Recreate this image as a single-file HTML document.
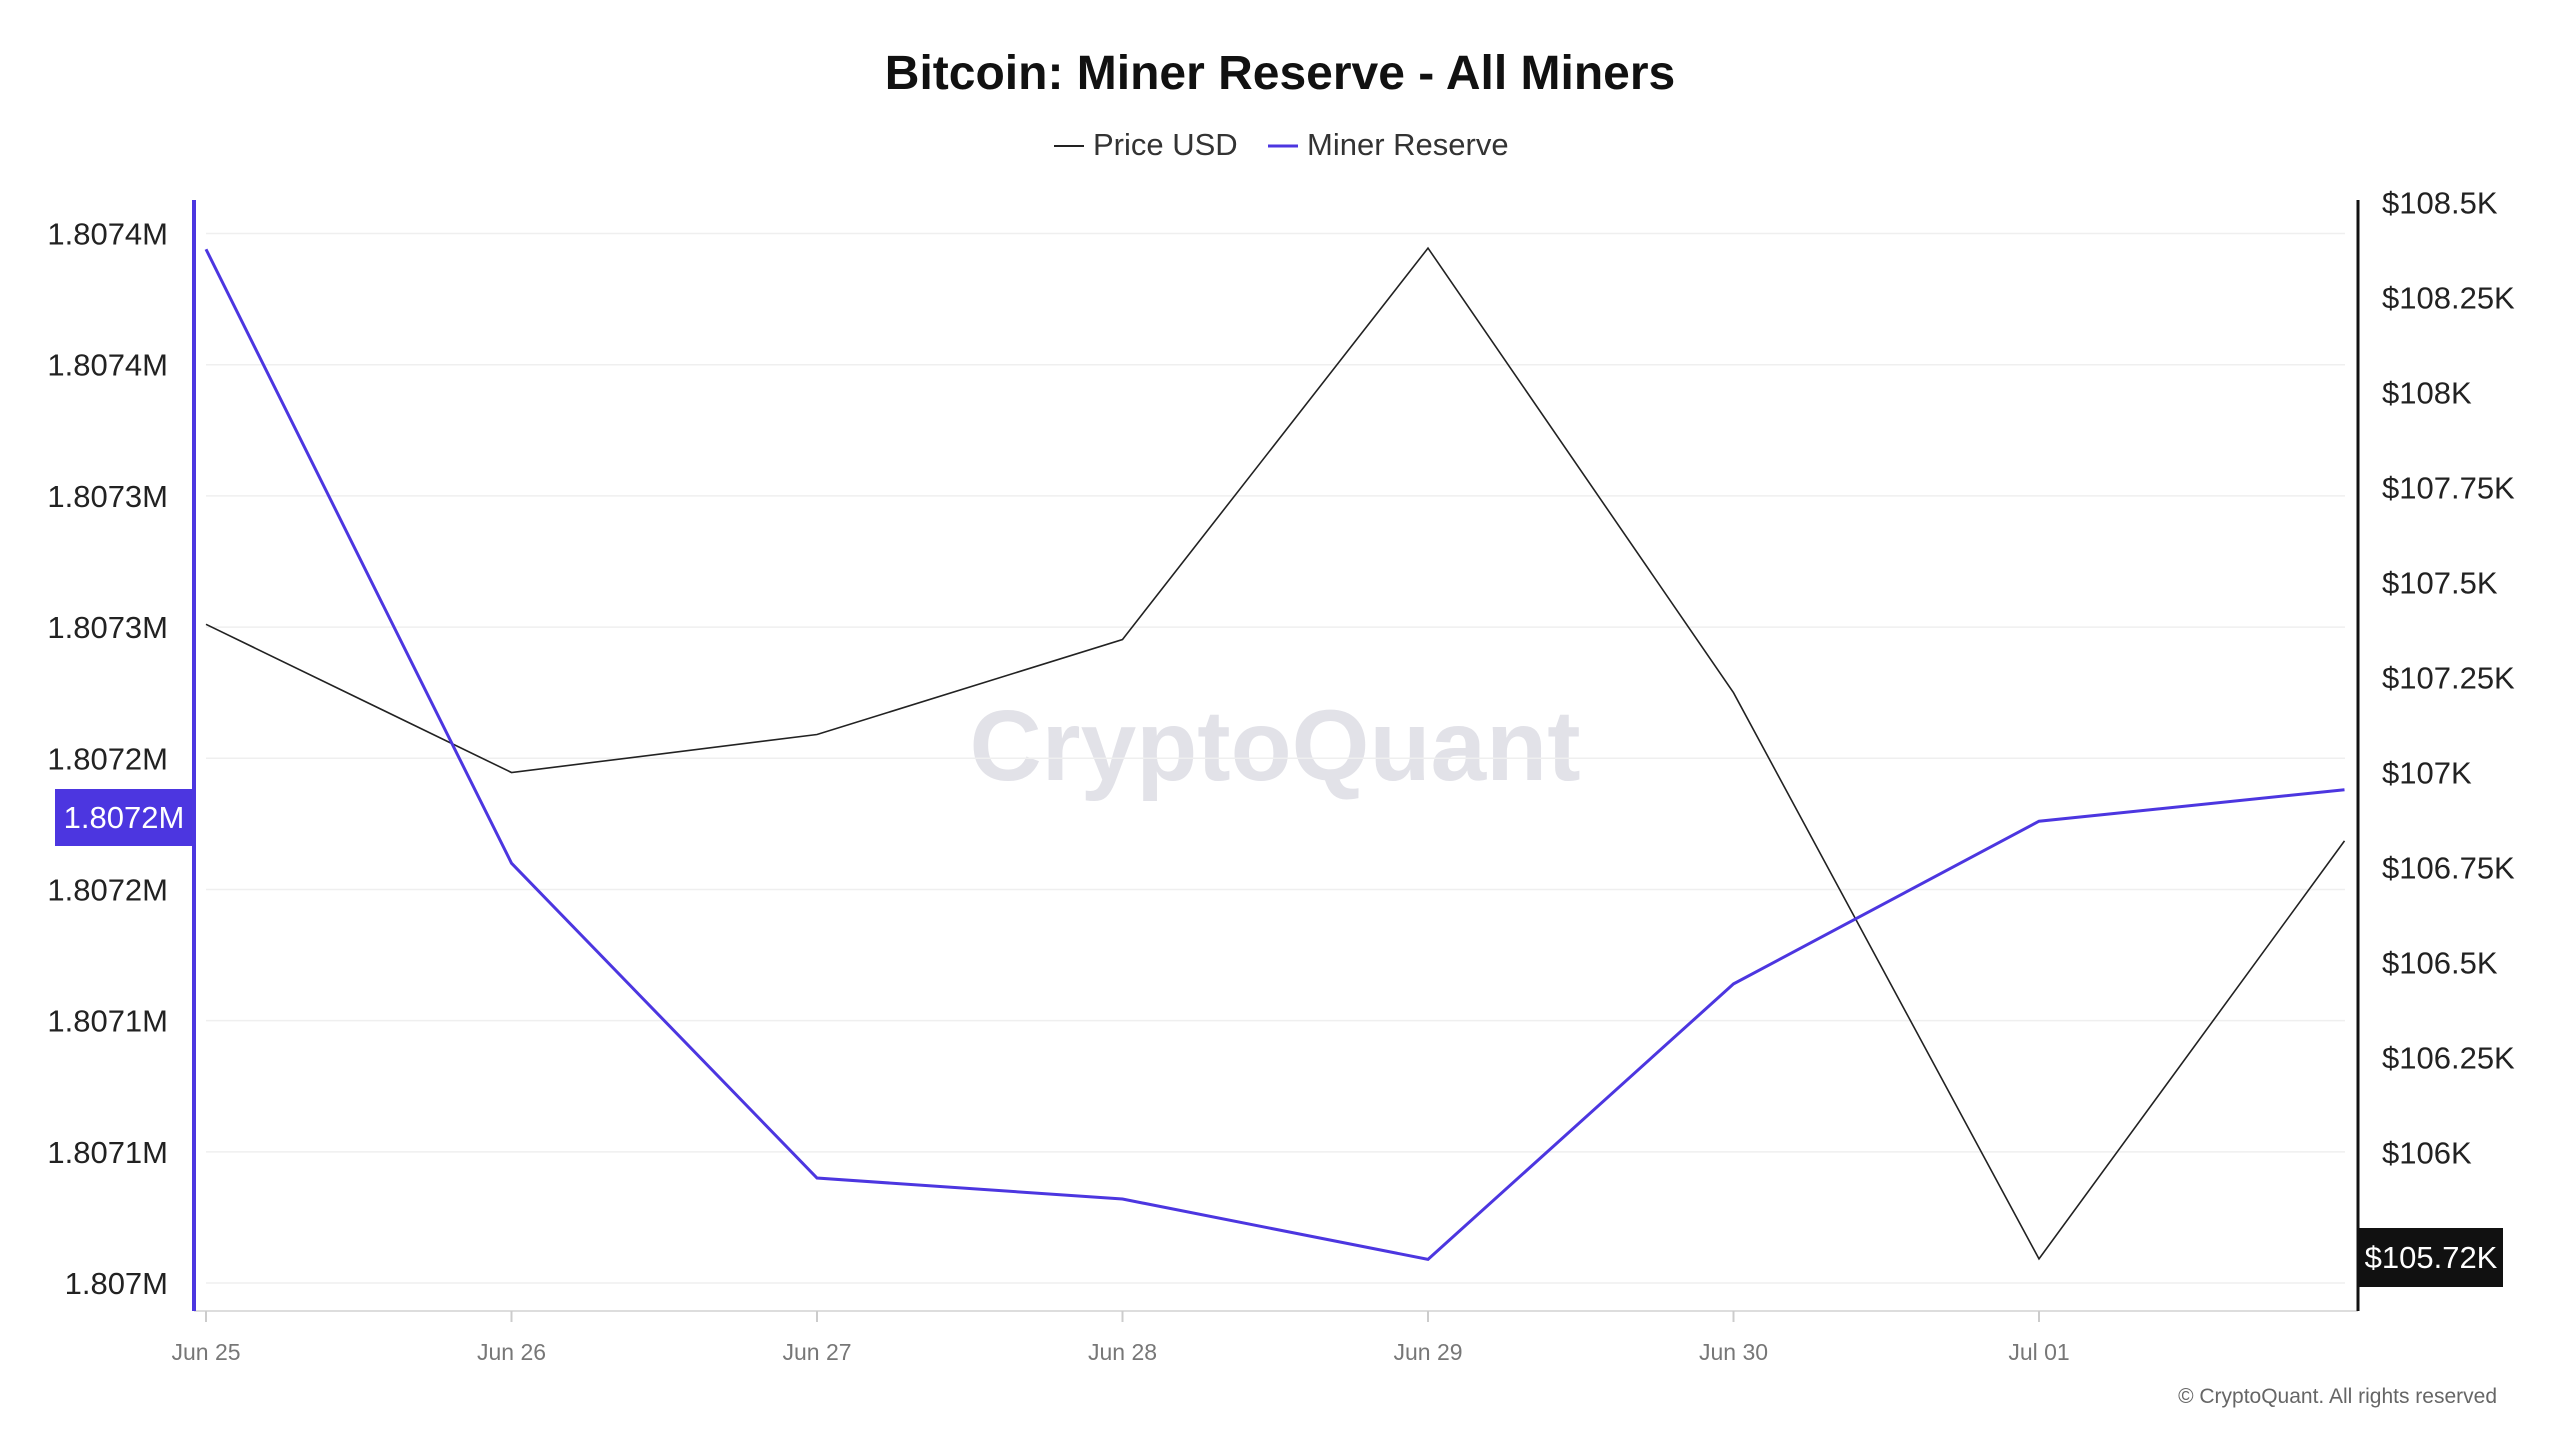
<!DOCTYPE html>
<html><head><meta charset="utf-8"><style>
body{margin:0;background:#fff;}
svg{display:block;font-family:"Liberation Sans",sans-serif;}
</style></head><body>
<svg id="chart" width="2560" height="1440" viewBox="0 0 2560 1440">
<text x="1280" y="89" text-anchor="middle" font-size="48" font-weight="bold" fill="#111">Bitcoin: Miner Reserve - All Miners</text>
<g>
<g><line x1="1054" y1="146" x2="1084" y2="146" stroke="#222" stroke-width="2"/><text x="1093" y="155" font-size="31" fill="#333">Price USD</text></g>
<g><line x1="1268" y1="146" x2="1298" y2="146" stroke="#4c36e0" stroke-width="3"/><text x="1307" y="155" font-size="31" fill="#333">Miner Reserve</text></g>
</g>
<text x="1275" y="780" text-anchor="middle" font-size="100" font-weight="bold" fill="#e2e2e8">CryptoQuant</text>
<g id="grid"></g><g id="axes"></g><g id="series"></g>
<text x="2497" y="1403" text-anchor="end" font-size="21" fill="#666">© CryptoQuant. All rights reserved</text>
</svg>
<script>
const dates=["Jun 25","Jun 26","Jun 27","Jun 28","Jun 29","Jun 30","Jul 01","Jul 02"];
const dateLabels=["Jun 25","Jun 26","Jun 27","Jun 28","Jun 29","Jun 30","Jul 01"];
const reserve=[1807394,1807160,1807040,1807032,1807009,1807114,1807176,1807188];
const price=[107390,107000,107100,107350,108380,107210,105720,106820];
const leftTicks=[1807000,1807050,1807100,1807150,1807200,1807250,1807300,1807350,1807400];
const leftTickLabels=["1.807M","1.8071M","1.8071M","1.8072M","1.8072M","1.8073M","1.8073M","1.8074M","1.8074M"];
const rightTicks=[106000,106250,106500,106750,107000,107250,107500,107750,108000,108250,108500];
const rightTickLabels=["$106K","$106.25K","$106.5K","$106.75K","$107K","$107.25K","$107.5K","$107.75K","$108K","$108.25K","$108.5K"];
const NS="http://www.w3.org/2000/svg";
const x=i=>206+i*305.5;
const yL=v=>1283-(v-1807000)/400*1049.5;
const yR=v=>202.5+(108500-v)/250*95;
function mk(tag,attrs,parent,txt){const e=document.createElementNS(NS,tag);for(const k in attrs)e.setAttribute(k,attrs[k]);if(txt!==undefined)e.textContent=txt;parent.appendChild(e);return e;}
const grid=document.getElementById('grid'),axes=document.getElementById('axes'),series=document.getElementById('series');
leftTicks.forEach((t,i)=>{
 const g=mk('line',{x1:206,x2:2345,y1:yL(t),y2:yL(t),stroke:'#efefef','stroke-width':1.5},grid);
 
 
 const l=mk('text',{x:168,y:yL(t)+11,'text-anchor':'end','font-size':31,fill:'#222'},axes,leftTickLabels[i]);
 
 
});
rightTicks.forEach((t,i)=>{
 const l=mk('text',{x:2382,y:yR(t)+11,'font-size':31,fill:'#222'},axes,rightTickLabels[i]);
 
 
});
const xa=mk('line',{x1:194,x2:2358,y1:1311,y2:1311,stroke:'#ddd','stroke-width':2},axes);


dateLabels.forEach((d,i)=>{
 mk('line',{x1:x(i),x2:x(i),y1:1311,y2:1322,stroke:'#ccc','stroke-width':2},axes);
 const l=mk('text',{x:x(i),y:1360,'text-anchor':'middle','font-size':23,fill:'#777'},axes,d);
 
 
});
const la=mk('line',{x1:194,x2:194,y1:200,y2:1311,stroke:'#4c36e0','stroke-width':4},axes);


const ra=mk('line',{x1:2358,x2:2358,y1:200,y2:1311,stroke:'#111','stroke-width':3},axes);


const pp=mk('polyline',{points:price.map((v,i)=>x(i)+','+yR(v)).join(' '),fill:'none',stroke:'#222','stroke-width':1.6},series);


const rp=mk('polyline',{points:reserve.map((v,i)=>x(i)+','+yL(v)).join(' '),fill:'none',stroke:'#4c36e0','stroke-width':3},series);


const lb=mk('g',{},series);


mk('rect',{x:55,y:789,width:139,height:57,fill:'#4c36e0'},lb);
mk('text',{x:124,y:828,'text-anchor':'middle','font-size':31,fill:'#fff'},lb,'1.8072M');
const rb=mk('g',{},series);


mk('rect',{x:2359,y:1228,width:144,height:59,fill:'#111'},rb);
mk('text',{x:2431,y:1268,'text-anchor':'middle','font-size':31,fill:'#fff'},rb,'$105.72K');
</script>
</body></html>
